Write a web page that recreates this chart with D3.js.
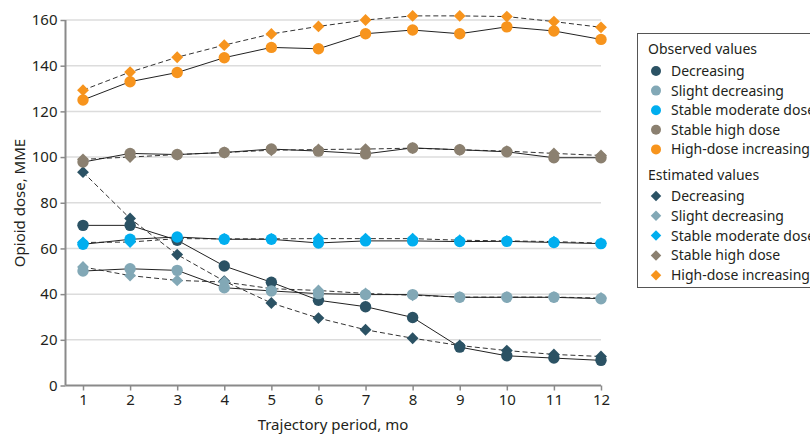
<!DOCTYPE html>
<html><head><meta charset="utf-8">
<script src="https://cdn.jsdelivr.net/npm/d3@7"></script>
<style>body{margin:0;background:#fff}svg{display:block}text{font-family:"Noto Sans",sans-serif;fill:#231f20}</style>
</head><body><svg id="c" width="810" height="436"></svg>
<script>
const months = [1,2,3,4,5,6,7,8,9,10,11,12];
const yTicks = [0,20,40,60,80,100,120,140,160];
const seriesNames = ["Decreasing","Slight decreasing","Stable moderate dose","Stable high dose","High-dose increasing"];
const seriesColors = ["#2b5264","#82a8b6","#00aeef","#8b8070","#f7941d"];
const obsDecreasing = [70.1,70.1,63.6,52.3,45.2,37.3,34.5,29.8,16.8,13.0,12.0,11.0];
const obsSlight = [50.1,51.1,50.4,42.8,41.4,40.2,39.8,39.8,38.6,38.6,38.6,38.0];
const obsStableMod = [61.8,64.0,65.0,64.0,64.0,62.4,63.3,63.3,63.0,63.1,62.6,62.1];
const obsStableHigh = [97.8,101.6,101.1,102.0,103.5,102.6,101.4,104.0,103.2,102.3,99.7,99.7];
const obsHighInc = [125.0,133.0,137.0,143.5,148.0,147.4,154.0,155.6,154.0,157.0,155.2,151.5];
const estDecreasing = [93.4,73.1,57.3,45.7,36.1,29.5,24.4,20.7,17.5,15.3,13.6,12.7];
const estSlight = [51.9,48.1,46.0,45.3,42.4,41.6,40.3,39.5,38.7,38.7,38.7,38.3];
const estStableMod = [62.6,62.8,64.3,64.2,64.2,64.3,64.3,64.3,63.6,63.3,63.0,62.3];
const estStableHigh = [99.0,100.0,101.1,102.0,103.0,103.3,103.5,103.9,103.2,102.6,101.6,100.7];
const estHighInc = [129.3,137.2,143.7,149.0,153.9,157.2,160.0,161.8,161.8,161.5,159.3,156.8];

const observed = [obsDecreasing,obsSlight,obsStableMod,obsStableHigh,obsHighInc];
const estimated = [estDecreasing,estSlight,estStableMod,estStableHigh,estHighInc];

const svg = d3.select("#c");
const x = d3.scaleLinear().domain([1,12]).range([83,601]);
const y = d3.scaleLinear().domain([0,160]).range([385.5,20]);
const axisLeft = 65.5, axisRight = 601;

// grid
svg.append("g").selectAll("line").data(yTicks.filter(d=>d>0)).join("line")
  .attr("x1",axisLeft).attr("x2",axisRight).attr("y1",d=>y(d)).attr("y2",d=>y(d))
  .attr("stroke","#dcdcdc").attr("stroke-width",1.5);

// y axis
const gy = svg.append("g").attr("transform",`translate(${axisLeft},0)`)
  .call(d3.axisLeft(y).tickValues(yTicks).tickSize(5).tickPadding(3));
gy.select(".domain").attr("d",`M0,${y(160)}V${y(0)}`).attr("stroke","#8a8a8a").attr("stroke-width",2);
gy.selectAll(".tick line").attr("stroke","#8a8a8a").attr("stroke-width",1.5);
gy.selectAll(".tick text").style("font-size","15px").attr("fill","#231f20");

// x axis
const gx = svg.append("g").attr("transform",`translate(0,${y(0)})`)
  .call(d3.axisBottom(x).tickValues(months).tickSize(5).tickPadding(4));
gx.select(".domain").attr("d",`M${axisLeft},0H${axisRight}`).attr("stroke","#8a8a8a").attr("stroke-width",2);
gx.selectAll(".tick line").attr("stroke","#8a8a8a").attr("stroke-width",1.5);
gx.selectAll(".tick text").style("font-size","15px").attr("fill","#231f20");

svg.append("text").attr("x",333).attr("y",430).attr("text-anchor","middle").style("font-size","15px").text("Trajectory period, mo");
svg.append("text").attr("transform","translate(25,203) rotate(-90)").attr("text-anchor","middle").style("font-size","15px").text("Opioid dose, MME");

const line = d3.line().x((d,i)=>x(months[i])).y(d=>y(d));
const diamond = d3.symbol().type(d3.symbolSquare).size(70);

// lines
estimated.forEach(s=>{
  svg.append("path").attr("d",line(s)).attr("fill","none").attr("stroke","#333").attr("stroke-width",1).attr("stroke-dasharray","5,3");
});
observed.forEach(s=>{
  svg.append("path").attr("d",line(s)).attr("fill","none").attr("stroke","#222").attr("stroke-width",1);
});
// markers
estimated.forEach((s,k)=>{
  svg.append("g").selectAll("path").data(s).join("path").attr("d",diamond)
    .attr("transform",(d,i)=>`translate(${x(months[i])},${y(d)}) rotate(45)`).attr("fill",seriesColors[k]);
});
observed.forEach((s,k)=>{
  svg.append("g").selectAll("circle").data(s).join("circle")
    .attr("cx",(d,i)=>x(months[i])).attr("cy",d=>y(d)).attr("r",5.7).attr("fill",seriesColors[k]);
});

// legend
const lg = svg.append("g");
lg.append("rect").attr("x",637.5).attr("y",33.5).attr("width",200).attr("height",254).attr("fill","#fff").attr("stroke","#555").attr("stroke-width",1);
lg.append("text").attr("x",648).attr("y",54).style("font-size","14px").text("Observed values");
seriesNames.forEach((n,i)=>{
  const cy = 71 + i*19.6;
  lg.append("circle").attr("cx",656).attr("cy",cy).attr("r",5).attr("fill",seriesColors[i]);
  lg.append("text").attr("x",671).attr("y",cy+5).style("font-size","14px").text(n);
});
lg.append("text").attr("x",648).attr("y",180).style("font-size","14px").text("Estimated values");
seriesNames.forEach((n,i)=>{
  const cy = 196 + i*19.8;
  lg.append("path").attr("d",d3.symbol().type(d3.symbolSquare).size(55)).attr("transform",`translate(656,${cy}) rotate(45)`).attr("fill",seriesColors[i]);
  lg.append("text").attr("x",671).attr("y",cy+5).style("font-size","14px").text(n);
});
</script></body></html>
